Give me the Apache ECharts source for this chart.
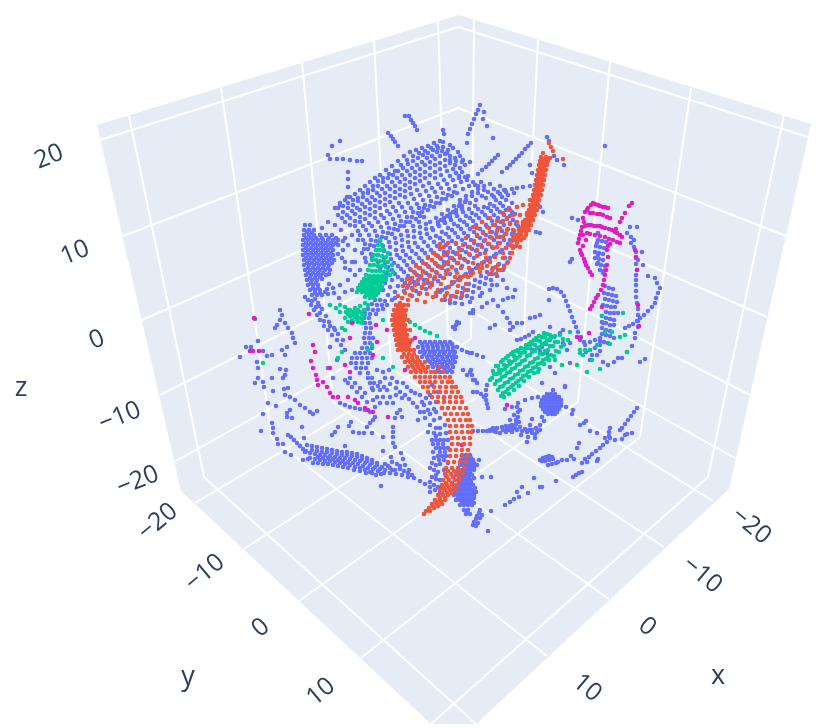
<!DOCTYPE html>
<html>
<head>
<meta charset="utf-8">
<style>
  html, body { margin: 0; padding: 0; background: #fff; }
  #chart { width: 831px; height: 728px; }
</style>
<script src="https://cdn.jsdelivr.net/npm/echarts@6/dist/echarts.min.js"></script>
</head>
<body>
<div id="chart"></div>
<script>
const paneOutline = [97,125, 459,15, 811,124, 729,489, 476,724, 431,724, 181,491];

// wall and floor grid, start and end of each line
const wallLines = [
  129,116, 204,477,  221,88, 272,438,  302,62, 333,402,  374,41, 391,368,  438,21, 448,337,
  474,20, 471,339,  538,40, 522,368,  610,62, 578,402,  691,88, 640,437,  784,115, 708,477,
  100,140, 458,27,  458,27, 808,137,  123,236, 458,108,  458,108, 786,236,
  142,320, 458,182,  458,182, 767,317,  160,395, 458,245,  458,245, 750,395,
  174,462, 458,304,  458,304, 735,458
];
const floorLines = [
  195,503, 471,339,  244,549, 522,368,  299,601, 578,402,  361,658, 640,437,  431,724, 708,477,
  713,501, 448,337,  664,547, 391,368,  609,599, 333,402,  547,656, 272,438,  476,724, 204,477
];

const zTicks = ['20', '10', '0', '\u221210', '\u221220'];
const yTicks = ['\u221220', '\u221210', '0', '10'];
const xTicks = ['\u221220', '\u221210', '0', '10'];
const zTickSpots = [49,157, 75,253, 97,340, 120,417, 138,481];
const yTickSpots = [158,522, 205,573, 261,628, 321,692];
const xTickSpots = [751,526, 702,575, 647,627, 587,688];
const axisNames = ['x', 'y', 'z'];
const axisNameSpots = [718,676, 188,677, 21,388];

const blueCloud = [
  335,208, 340,205, 345,200, 350,197, 355,194, 360,190, 365,186, 370,182, 375,178, 380,175, 386,170, 392,166, 398,161, 404,156, 410,152, 416,150, 422,148, 428,146, 434,143, 440,141, 444,134, 443,130, 443,142, 450,145,
  338,215, 343,212, 348,208, 353,205, 358,201, 363,197, 368,193, 373,190, 378,186, 383,182, 388,178, 393,175, 398,171, 403,168, 408,164, 413,161, 418,158, 423,155, 428,153, 433,150, 438,148, 443,147, 448,150, 453,148, 458,152,
  345,222, 350,218, 355,214, 360,210, 365,207, 370,203, 375,200, 380,196, 385,193, 390,189, 395,186, 400,182, 405,179, 410,175, 415,172, 420,169, 425,165, 430,162, 435,159, 440,156, 445,154, 450,156, 455,158, 460,156, 463,160,
  355,226, 360,222, 365,219, 370,215, 375,212, 380,208, 385,205, 390,202, 395,198, 400,195, 405,191, 410,188, 415,184, 420,181, 425,178, 430,175, 435,172, 440,169, 445,166, 450,163, 455,165, 460,168, 465,165,
  360,235, 366,230, 372,226, 378,222, 384,218, 390,214, 396,211, 402,207, 408,203, 414,199, 420,195, 426,191, 432,188, 438,184, 444,180, 450,176, 456,173, 462,172, 468,176,
  365,244, 371,240, 377,236, 383,232, 389,228, 395,224, 401,221, 407,217, 413,212, 419,208, 425,205, 431,201, 437,197, 443,193, 449,189, 455,186, 461,182, 467,180, 473,182, 478,186,
  362,253, 368,249, 374,246, 380,241, 386,238, 392,234, 398,230, 404,226, 410,222, 416,219, 460,200, 466,196, 472,192, 478,189, 484,186, 490,184,
  366,262, 372,258, 378,255, 384,251, 390,247, 396,243, 402,240, 408,236, 414,231, 420,227, 426,224, 438,222, 444,218, 450,214, 456,210, 462,206, 486,198, 492,195, 498,192, 504,190,
  385,263, 391,259, 397,255, 403,251, 409,247, 415,243, 421,238, 427,234, 433,230, 439,226, 445,223, 451,220, 457,216, 463,212, 469,209, 475,206, 490,204, 496,200, 502,197, 508,195, 514,193,
  392,270, 398,266, 404,261, 410,258, 416,254, 422,250, 428,246, 434,242, 440,238, 446,234, 452,230, 458,226, 464,222, 470,218, 476,215, 482,212, 488,208, 494,206, 500,203, 506,200, 512,203, 517,207,
  398,277, 404,272, 410,269, 416,265, 422,261, 428,257, 434,253, 440,249, 446,245, 452,241, 458,237, 464,233, 470,229, 476,225, 482,222, 488,218, 494,215, 500,212, 506,210, 512,212,
  405,283, 411,279, 417,275, 423,271, 429,267, 435,263, 441,259, 447,255, 453,252, 459,248, 465,244, 471,240, 477,236, 483,232, 489,228, 495,225, 501,222, 507,219, 513,220, 518,226,
  412,288, 418,284, 424,280, 430,276, 436,272, 442,268, 448,264, 454,260, 460,256, 466,252, 472,249, 478,245, 484,241, 490,237, 496,234, 502,231, 508,229, 514,231,
  420,293, 426,289, 432,285, 438,281, 444,278, 450,274, 456,270, 462,266, 468,262, 474,258, 480,254, 486,250, 492,247, 498,243, 504,240, 510,240, 516,240,
  440,292, 446,288, 452,284, 458,280, 464,276, 470,272, 476,268, 482,264, 488,260, 494,256, 500,252, 506,248, 512,246,
  445,300, 451,296, 457,292, 463,288, 469,284, 475,280, 481,276, 487,272, 493,268, 499,264, 505,258, 510,253,
  455,303, 461,298, 467,296, 473,292, 479,288, 485,284, 491,280, 497,276, 503,270, 508,262,
  470,302, 480,296, 490,290, 497,285, 503,280, 380,268, 386,274, 392,280, 398,286, 404,291, 412,296
];
const blueCloudFill = [
  338,208, 343,206, 348,203, 353,200, 358,198, 363,193, 368,190, 373,186, 378,181, 383,178, 389,174, 395,171, 401,165, 407,160, 413,156, 419,153, 425,151, 431,148, 437,146,
  342,218, 347,215, 352,211, 357,208, 362,204, 367,200, 372,197, 377,193, 382,189, 387,186, 392,182, 397,178, 402,175, 407,171, 412,168, 417,165, 422,162, 427,158, 432,156, 437,152, 442,151, 447,153,
  350,225, 355,221, 360,217, 365,213, 370,209, 375,206, 380,202, 385,199, 390,196, 395,192, 400,189, 405,185, 410,182, 415,178, 420,175, 425,172, 430,168, 435,165, 440,163, 445,160, 450,160, 456,161, 462,162,
  358,231, 363,226, 369,223, 375,218, 381,215, 387,211, 393,207, 399,203, 405,197, 411,194, 417,190, 423,186, 429,183, 435,178, 441,175, 447,171, 453,169, 459,176,
  363,240, 369,235, 375,231, 381,227, 387,223, 393,219, 399,216, 405,212, 411,208, 417,204, 423,200, 429,196, 435,192, 441,188, 447,184, 453,180, 459,178, 465,177,
  364,249, 370,245, 376,241, 382,237, 388,233, 394,229, 400,226, 406,222, 412,217, 418,213, 457,193, 463,189, 469,186, 475,185, 481,182,
  365,258, 371,254, 377,250, 383,246, 389,242, 395,238, 401,235, 407,231, 413,226, 419,222, 441,220, 447,216, 453,212, 459,206, 465,202, 488,192, 494,189, 500,186,
  378,262, 384,258, 390,254, 396,250, 402,246, 408,242, 414,237, 420,233, 426,229, 432,228, 438,224, 444,221, 450,217, 456,213, 462,209, 494,197, 500,194, 506,192,
  388,267, 394,263, 400,258, 406,255, 412,251, 418,247, 424,242, 430,238, 436,236, 442,232, 448,228, 454,224, 460,220, 466,216, 472,213, 478,209, 484,207,
  395,274, 401,269, 407,265, 413,262, 419,258, 425,253, 431,250, 437,246, 443,241, 449,237, 455,233, 461,229, 467,225, 473,221, 479,218, 485,215, 491,211, 497,209, 503,206, 509,208, 515,214,
  402,280, 408,276, 414,272, 420,268, 426,264, 432,260, 438,256, 444,252, 450,248, 456,244, 462,240, 468,236, 474,232, 480,229, 486,225, 492,221, 498,218, 504,215, 510,216,
  408,286, 414,282, 420,278, 426,273, 432,270, 438,266, 444,262, 450,258, 456,254, 462,250, 468,247, 474,243, 480,238, 486,235, 492,232, 498,228, 504,225, 510,224, 516,224,
  416,291, 422,287, 428,283, 434,279, 440,276, 446,271, 452,267, 458,263, 464,259, 470,255, 476,251, 482,247, 488,244, 494,240, 500,237, 506,234, 512,234,
  436,296, 442,290, 448,287, 454,282, 460,277, 466,274, 472,270, 478,265, 484,262, 490,258, 496,254, 502,250, 508,244,
  450,303, 456,297, 462,293, 468,290, 474,286, 480,282, 486,278, 492,274, 498,270, 504,266, 462,304, 472,298, 482,293, 492,285,
  424,208, 430,206, 436,203, 442,199, 448,195, 454,192, 422,212, 428,210, 434,207, 440,203, 446,199, 452,196, 430,222, 436,218, 442,214, 448,210, 454,206, 460,204, 466,200, 472,196, 478,193, 484,190,
  470,203, 476,200, 482,196, 424,217, 420,216, 395,292, 390,287, 385,283, 380,277, 392,300, 388,295, 395,298, 383,290, 345,262, 350,270, 355,275, 348,280, 352,290, 345,292, 340,285, 355,262, 360,270
];
const blueStrays = [
  340,203, 347,197, 348,172, 348,179, 348,187, 328,155, 330,159, 337,159, 343,159, 350,160, 357,161, 362,161, 332,146, 340,141,
  388,133, 391,136, 393,139, 395,142, 398,146, 405,116, 409,116, 411,120, 413,123, 415,126, 417,130,
  480,105, 478,110, 476,114, 474,119, 472,124, 470,129, 468,134, 484,112, 483,119, 487,126, 493,138, 467,143,
  531,143, 528,146, 525,149, 522,153, 519,156, 516,159, 513,162, 510,165, 507,168, 605,146,
  498,155, 495,158, 492,161, 489,164, 486,167, 482,170, 478,174, 502,172, 470,162, 530,165,
  505,190, 512,189, 517,188, 523,187, 530,186, 532,173, 540,207, 543,212, 536,232, 540,233, 547,137, 549,141, 554,156, 557,160, 564,165,
  335,225, 341,230, 328,222, 322,228, 345,238, 352,235, 348,245, 358,240, 343,250, 352,262, 345,268, 342,258, 355,250
];
const blueCrescent = [
  305,225, 310,225, 304,230, 309,230, 314,230, 304,235, 309,235, 314,235, 320,235, 326,235, 332,235,
  303,240, 308,240, 313,240, 318,240, 323,240, 328,240, 333,240, 338,240, 343,241, 303,245, 308,245, 313,245, 318,245, 323,245, 328,245, 333,245, 338,245,
  303,250, 308,250, 313,250, 318,250, 323,250, 328,250, 333,250, 303,255, 308,255, 313,255, 318,255, 323,255, 328,255, 333,255, 338,254,
  304,260, 309,260, 314,260, 319,260, 324,260, 329,260, 334,260, 304,265, 309,265, 314,265, 319,265, 324,265, 329,265,
  305,270, 310,270, 315,270, 320,270, 325,270, 330,270, 306,275, 311,275, 316,275, 321,275, 326,275, 307,280, 312,280, 317,280, 322,279,
  308,285, 313,285, 318,285, 329,284, 310,290, 315,290, 320,290, 327,289, 333,288, 312,295, 317,295, 322,295, 328,294, 334,293, 339,298,
  308,300, 311,305, 314,310, 317,315, 320,320, 324,326, 328,330, 332,335, 337,340, 341,345, 345,350, 312,301, 316,307, 320,313, 319,306, 305,297, 324,321, 330,326, 335,330,
  330,347, 337,360, 328,368, 333,378, 345,380, 348,383, 352,387, 357,392, 362,397, 367,402, 350,378, 355,383, 360,388, 365,393,
  307,232, 312,233, 306,238, 311,238, 316,238, 322,238, 329,238, 336,238, 306,243, 311,243, 316,243, 321,243, 326,243, 331,243, 336,243, 306,248, 311,248, 316,248, 321,248, 326,248, 331,248,
  306,253, 311,253, 316,253, 321,253, 326,253, 331,253, 306,258, 311,258, 316,258, 321,258, 326,258, 331,258, 307,263, 312,263, 317,263, 322,263, 327,263, 332,263, 308,268, 313,268, 318,268, 323,268, 328,268,
  308,273, 313,273, 318,273, 323,273, 329,274, 310,278, 315,278, 320,277, 311,283, 316,283, 313,288, 318,288, 315,293, 320,293, 325,292, 315,299, 318,303, 322,309, 326,316, 329,322, 334,328, 338,334, 343,340
];
const blueWest = [
  280,310, 282,315, 280,320, 277,325, 275,328, 285,323, 288,328, 292,333, 293,338, 295,343, 255,319, 287,347, 282,350, 246,347, 251,347, 258,341, 263,351, 272,355, 267,356, 240,357, 257,362, 258,368, 285,355,
  280,369, 286,370, 285,375, 283,378, 272,378, 258,378, 255,383, 263,382, 264,387, 273,391, 284,389, 288,388, 285,395, 290,397, 295,400, 300,405, 305,408, 310,412, 317,411, 313,414,
  268,403, 276,406, 263,414, 290,410, 287,413, 292,418, 287,417, 272,423, 261,431, 273,428, 273,433, 277,439, 278,444, 283,444, 285,452, 291,455, 302,427, 304,438, 303,460, 308,459,
  332,435, 335,432, 338,427, 349,426, 353,432, 359,433, 364,433, 372,433, 345,446, 351,422, 367,427, 370,423, 373,420, 375,417, 383,437, 393,427, 393,432, 393,437, 393,443, 395,447, 383,451, 391,457, 401,453, 403,459, 405,465, 409,470, 381,486
];
const blueFan = [
  288,435, 291,437, 294,440, 297,443, 300,446, 303,449, 306,451, 307,445, 312,446, 317,447, 322,448, 327,449, 332,450, 337,451, 342,452, 347,452, 352,453, 357,454, 362,456, 367,458, 372,460, 377,463,
  305,452, 310,453, 315,454, 320,455, 325,455, 330,456, 335,457, 340,458, 345,458, 350,459, 355,460, 360,461, 365,463, 370,465, 375,467, 380,469, 385,470,
  310,458, 315,459, 320,460, 325,461, 330,461, 335,462, 340,463, 345,464, 350,465, 355,467, 360,468, 365,470, 370,472,
  312,450, 317,451, 322,452, 327,452, 332,453, 337,454, 342,455, 347,455, 352,456, 357,457, 362,459, 367,461, 372,463, 377,465, 382,467,
  318,457, 323,458, 328,458, 333,459, 338,460, 343,461, 348,462, 353,463, 358,464, 363,466, 368,468, 373,469,
  378,471, 384,473, 390,473, 396,474, 402,475, 408,477, 414,478, 420,481, 425,484, 430,487, 372,473, 435,490, 440,493, 430,492, 385,464, 390,468, 395,470, 400,466, 397,464, 392,462,
  313,463, 318,463, 323,464, 328,464, 333,465, 338,466, 343,467, 348,468, 354,470, 360,471, 366,473, 376,475, 381,474, 404,471, 400,469, 408,473, 412,475, 392,470, 388,466
];
const blueMiddle = [
  375,300, 380,300, 385,301, 372,304, 377,305, 382,305, 387,305, 368,309, 373,310, 378,310, 383,309, 365,313, 370,314, 376,314,
  364,318, 369,318, 365,323, 370,323, 366,328, 371,328, 365,333, 370,333, 364,338, 369,338, 373,338, 365,343, 370,343, 362,348, 367,348, 372,348,
  355,353, 360,353, 365,353, 370,353, 352,358, 357,358, 362,358, 367,358, 372,358, 351,363, 356,363, 362,363, 368,363, 356,368, 361,368, 366,368, 360,373, 368,373, 368,378, 372,378, 370,383, 374,383, 372,388,
  340,403, 345,405, 350,407, 355,408, 360,409, 365,410, 370,412, 377,397, 373,400, 387,390, 380,390, 373,390, 383,397, 390,397, 387,403, 380,403, 393,403, 375,407, 397,413, 402,417, 400,410, 395,418,
  377,370, 383,372, 389,370, 385,378, 392,378, 397,382, 380,382, 378,386, 384,387, 390,384, 396,388, 400,392, 396,395, 402,398,
  403,383, 407,387, 411,391, 405,395, 409,399, 413,403, 417,407, 420,395, 415,393, 422,402, 428,410, 420,412, 425,418, 418,420,
  420,342, 425,342, 430,342, 435,342, 440,342, 445,342, 450,342, 418,347, 423,347, 428,347, 433,347, 438,347, 443,347, 448,347, 453,347, 457,347,
  420,352, 425,352, 430,352, 435,352, 440,352, 445,352, 450,352, 455,352, 422,357, 427,357, 432,357, 437,357, 442,357, 447,357, 452,357, 456,357,
  425,362, 430,362, 435,362, 440,362, 445,362, 450,362, 455,362, 428,367, 433,367, 438,367, 443,367, 448,367, 453,367, 435,372, 440,372, 447,372, 452,372,
  422,344, 427,345, 432,344, 437,345, 442,344, 447,345, 452,344, 423,350, 428,349, 433,350, 438,349, 443,350, 448,349, 453,350, 424,354, 429,355, 434,354, 439,355, 444,354, 449,355, 454,354,
  428,360, 433,359, 438,360, 443,359, 448,360, 453,359, 432,364, 437,365, 442,364, 447,365, 452,364, 438,370, 445,369, 450,370,
  462,350, 467,352, 470,353, 463,370, 467,375, 470,372, 473,380, 453,327, 456,325, 457,322, 459,323, 455,329, 470,313, 473,310,
  432,385, 438,392, 444,398, 430,395, 436,402, 442,408, 436,412, 440,418, 445,425, 440,428, 446,433, 436,436, 432,440, 436,440, 440,440, 444,440, 448,440,
  436,448, 440,448, 444,448, 448,448, 438,456, 442,456, 446,456, 432,463, 436,465, 440,464, 434,470, 438,472, 432,477, 436,479, 440,480, 434,485, 438,487, 442,488,
  424,405, 430,403, 426,398, 434,409, 430,414, 424,412, 434,420, 430,425, 436,428, 428,432, 434,433, 440,434, 433,444, 438,444, 443,444, 433,452, 440,452, 445,452, 434,458, 439,460, 444,460, 448,463, 430,468, 436,475, 430,482, 444,470, 446,476
];
const blueBase = [
  462,455, 466,455, 470,455, 461,460, 465,460, 469,460, 473,460, 460,465, 464,465, 468,465, 472,465, 476,465, 458,470, 462,470, 466,470, 470,470, 474,470,
  456,475, 460,475, 464,475, 468,475, 472,475, 455,480, 459,480, 463,480, 467,480, 471,480, 453,485, 457,485, 461,485, 465,485, 469,485, 473,485,
  452,490, 456,490, 460,490, 464,490, 468,490, 472,490, 454,495, 458,495, 462,495, 466,495, 470,495, 474,495, 456,500, 460,500, 464,500, 468,500, 472,500,
  460,505, 464,505, 468,505, 472,505, 464,510, 468,510, 466,514, 470,514, 467,512,
  463,458, 467,458, 471,458, 462,463, 466,463, 470,463, 474,463, 466,468, 470,468, 474,468, 462,473, 466,473, 470,473, 474,478, 461,478, 465,478, 469,478, 459,483, 463,483, 467,483, 471,483, 475,488, 458,488, 462,488, 466,488, 470,488,
  456,493, 460,493, 464,493, 468,493, 472,493, 476,492, 458,498, 462,498, 466,498, 470,498, 474,498, 462,503, 466,503, 470,503, 474,503,
  480,510, 479,513, 477,516, 476,519, 474,522, 473,525, 476,526, 478,523, 480,518, 482,515, 488,531, 491,511
];
const blueEast = [
  473,431, 478,431, 483,431, 487,431, 490,430, 494,431, 497,428, 500,433, 503,430, 507,429, 510,426, 512,431, 505,409, 512,407, 518,403, 525,400, 532,398, 538,397,
  517,407, 518,412, 518,417, 519,422, 516,424, 515,428, 510,420, 512,425, 514,415, 520,410, 512,432, 517,430, 522,431, 527,432, 532,433, 537,432, 540,430, 536,428, 532,430, 540,425,
  542,417, 544,421, 532,419, 530,425, 528,437, 527,442, 521,435, 535,438, 566,407, 573,410, 572,414, 565,386, 542,383, 553,390,
  580,425, 584,423, 586,421, 590,431, 597,433, 637,408, 634,412, 631,416, 628,420, 625,424, 622,428, 620,430, 610,428, 609,432, 609,436, 610,438, 605,438, 615,440, 622,439, 632,433, 627,434, 625,435,
  607,442, 603,445, 600,448, 596,451, 592,454, 589,457, 585,459, 582,463, 587,462, 598,459, 597,461, 579,443, 577,448,
  540,460, 543,458, 546,457, 549,456, 552,457, 553,459, 549,460, 545,461, 542,461, 548,465, 552,464, 556,463, 558,462, 562,460, 567,460, 571,456, 574,459,
  573,477, 576,475, 579,473, 582,472, 534,478, 556,481, 540,487, 542,487, 528,493, 522,487, 517,492, 519,497, 514,499, 510,502, 505,505, 479,460, 477,465, 491,477, 482,477,
  473,392, 477,392, 481,394, 484,397, 486,400, 487,404, 488,408, 487,385, 486,390, 486,395,
  490,431, 493,428, 496,432, 502,427, 506,432, 509,430, 513,428, 506,426, 516,420, 520,427, 525,429, 529,430, 535,434,
  547,394, 551,394, 555,394, 544,397, 548,397, 552,397, 556,397, 559,397, 542,400, 546,400, 550,400, 554,400, 558,400, 561,400, 541,403, 545,403, 549,403, 553,403, 557,403, 561,403,
  541,406, 545,406, 549,406, 553,406, 557,406, 561,406, 543,409, 547,409, 551,409, 555,409, 559,409, 545,412, 549,412, 553,412, 557,412, 548,414, 552,414, 555,414
];
const blueTower = [
  549,289, 553,288, 557,289, 561,292, 564,296, 566,301, 568,306, 570,311, 572,317, 574,322, 576,327, 578,332, 581,337, 584,342, 549,300,
  598,233, 597,243, 598,255, 598,263, 603,273, 598,240, 602,241, 606,242, 596,246, 600,247, 604,248, 595,252, 599,253, 603,254, 595,258, 599,259, 603,260, 597,264, 601,265, 605,266, 600,270, 604,271,
  605,286, 609,288, 613,289, 604,293, 608,294, 612,295, 616,296, 605,299, 609,300, 613,301, 617,302, 603,305, 607,306, 611,307, 615,307, 606,312, 610,313, 614,313, 618,313, 602,316, 606,318, 610,319, 614,320,
  602,322, 606,323, 610,325, 614,325, 602,328, 606,330, 610,331, 602,334, 606,335, 610,336, 614,338, 600,341, 604,342, 608,343, 600,338,
  631,243, 634,247, 636,252, 636,258, 636,264, 637,270, 636,275, 636,280, 636,285, 636,291, 636,297, 637,303, 638,309, 638,315, 638,321, 638,327, 627,233, 631,237, 634,240,
  655,303, 652,307, 648,311, 644,315, 640,318, 637,321, 633,324, 629,326, 625,328, 660,288, 658,293, 656,298,
  635,333, 635,338, 632,346, 627,352, 622,358, 618,358, 640,362, 645,359, 638,260, 643,265, 648,276, 655,278, 657,283, 642,252,
  570,262, 572,259, 572,218, 578,220, 630,227, 637,227, 603,323,
  585,345, 590,342, 595,340, 600,345, 595,348, 600,351, 590,350, 586,352, 592,355, 597,355, 590,360, 603,362, 608,365, 614,362,
  517,340, 521,339, 525,337, 529,335, 533,332, 542,347, 546,344, 550,340, 554,337, 550,327, 553,337, 560,333, 563,330, 533,350, 540,351, 547,353, 550,367, 555,373, 565,387, 570,363, 570,343, 563,343, 567,350, 580,340,
  473,313, 513,297, 508,298, 503,300, 493,300, 498,306, 503,312, 507,318, 510,323, 513,327, 517,323, 522,323, 510,330, 490,328, 495,325, 530,318, 535,317, 540,315, 482,307, 487,303, 507,288, 515,290, 472,353, 477,355, 483,357, 471,370, 472,375, 475,380, 477,383
];

const greenWest = [
  380,240, 378,245, 382,245, 376,250, 380,250, 384,250, 388,253, 374,255, 378,255, 382,256, 386,257, 372,260, 376,260, 380,261, 384,261, 388,262, 370,265, 374,265, 378,266, 382,266, 386,267, 392,265,
  368,270, 372,271, 376,271, 380,271, 384,272, 388,271, 393,272, 366,275, 370,276, 374,276, 378,276, 382,276, 386,277, 390,275, 362,282, 366,281, 370,282, 374,282, 378,281, 382,282, 386,280,
  358,288, 362,287, 366,287, 370,287, 374,288, 378,287, 382,287, 357,292, 362,292, 366,293, 370,293, 374,293, 378,293, 365,297, 370,298, 374,298,
  364,279, 368,279, 372,279, 376,279, 380,279, 384,279, 360,285, 364,284, 368,285, 372,285, 376,284, 380,285, 360,290, 364,290, 368,290, 372,290, 376,290, 380,290, 368,295, 372,295, 376,295,
  345,307, 348,310, 352,312, 356,313, 360,312, 364,310, 360,306, 355,308, 350,316, 355,317, 360,318, 365,315, 352,320, 358,322, 362,323, 348,322, 345,318, 340,312, 365,303, 368,305, 342,328, 345,330,
  350,310, 354,312, 358,310, 362,314, 357,315, 352,315, 348,314, 346,312, 362,319, 357,319, 353,322,
  405,318, 410,322, 415,325, 420,328, 425,331, 430,333, 437,336, 330,305, 336,308, 340,305, 263,363, 338,358, 342,352, 393,367, 383,358, 372,345, 368,350, 383,320
];
const greenEast = [
  492,378, 497,374, 502,370, 507,366, 512,362, 517,358, 522,353, 527,348, 532,344, 537,340, 542,337, 547,334,
  495,384, 500,380, 505,376, 510,372, 515,368, 520,364, 525,360, 530,355, 535,351, 540,347, 545,343, 550,339, 555,336, 560,335,
  498,390, 503,386, 508,382, 513,378, 518,374, 523,370, 528,366, 533,362, 538,358, 543,354, 548,350, 553,346, 558,342, 563,339,
  501,396, 506,392, 511,387, 516,383, 521,379, 526,375, 531,371, 536,367, 541,363, 546,359, 551,355, 556,351, 561,347,
  497,381, 502,377, 507,373, 512,369, 517,365, 522,361, 527,356, 532,352, 537,348, 542,344, 547,340, 552,337,
  500,387, 505,383, 510,379, 515,375, 520,371, 525,367, 530,363, 535,359, 540,354, 545,351, 550,346, 555,342,
  503,393, 508,389, 513,385, 518,381, 523,376, 528,372, 533,368, 538,364, 543,360, 548,356,
  490,380, 494,374, 499,370, 504,365, 509,361, 514,356, 519,352, 524,349, 529,344, 534,340, 539,336, 544,333, 496,366, 501,362, 506,358, 511,354, 516,351, 521,348, 526,345, 531,342, 536,338,
  493,371, 498,366, 503,360, 508,356, 513,352, 518,350, 500,373, 505,369, 510,364, 515,360, 520,356, 525,352, 530,348, 535,345, 540,341, 545,337, 550,335,
  504,397, 509,394, 514,390, 519,386, 524,381, 529,377, 534,373, 539,369, 544,364, 549,360, 554,356, 559,352, 564,345, 568,340,
  580,353, 585,350, 587,372, 577,365, 592,360, 600,369, 610,344, 602,316, 623,313, 612,332, 620,337, 625,335, 627,352, 570,332, 597,345, 605,332, 580,350, 590,350, 583,355, 555,360, 562,365, 538,372
];

const magentaTower = [
  593,203, 598,205, 603,207, 608,208, 585,212, 588,208, 591,205, 583,218, 590,213, 597,214, 603,215, 610,218, 582,227, 588,225, 597,226, 605,228, 612,230, 617,233, 622,237,
  580,235, 587,233, 595,235, 605,237, 613,240, 620,243, 578,243, 580,250, 582,255, 585,262, 588,268, 592,275, 584,222, 581,231, 586,240, 583,246,
  595,204, 600,206, 605,207, 587,210, 593,213, 600,214, 607,217, 585,226, 591,225, 594,226, 600,226, 602,227, 609,229, 615,232, 620,235, 583,235, 590,234, 600,236, 609,239, 617,242, 579,239, 581,253, 584,259, 586,265, 590,272,
  632,203, 629,206, 625,213, 622,218, 620,222, 616,229, 607,250, 608,257, 607,265, 605,275, 603,285, 598,295, 594,302, 590,309, 610,244, 608,246, 606,270, 604,280, 601,290, 596,298, 592,306,
  635,250, 636,257, 637,270, 638,305, 639,326, 577,337, 580,338, 589,333, 602,307
];
const magentaWest = [
  250,351, 253,351, 259,351, 254,318, 309,314, 313,345, 315,352, 311,361, 313,368, 316,375, 317,380, 318,385, 323,382, 327,387, 330,393, 333,397, 338,397, 348,397, 355,400, 358,403, 365,408, 368,410, 373,412, 388,417,
  352,323, 350,338, 376,325, 377,342, 387,330, 373,355, 410,342, 415,338, 405,370, 462,445, 330,368, 345,365, 350,372, 507,405
];

const redTop = [
  543,153, 541,157, 546,157, 540,161, 544,161, 548,161, 539,165, 543,165, 547,165, 538,170, 542,170, 546,170, 537,175, 541,175, 545,175, 536,180, 540,180, 544,180, 535,185, 539,185, 543,185,
  534,190, 538,190, 542,190, 533,195, 537,195, 541,195, 531,200, 535,200, 539,200, 530,205, 534,205, 538,205, 529,210, 533,210, 537,210, 527,215, 531,215, 535,215, 525,220, 529,220, 533,220,
  523,225, 527,225, 531,225, 519,230, 524,230, 529,230, 516,235, 521,235, 526,235, 550,158, 563,159, 549,143, 551,147, 553,151,
  542,159, 546,159, 541,163, 545,163, 540,167, 544,167, 539,172, 543,172, 538,177, 542,177, 537,182, 541,182, 536,187, 540,187, 535,192, 539,192, 534,197, 538,197, 533,202, 537,202, 531,207, 535,207, 530,212, 534,212, 528,217, 532,217, 526,222, 530,222, 524,227, 528,227, 521,232, 526,232, 514,238, 519,238, 524,238, 512,241, 517,243
];
const redBand = [
  503,213, 510,210, 517,207, 523,205, 530,200, 507,218, 513,215, 520,215, 527,213, 510,223, 517,222, 523,222, 532,220, 513,230, 520,228, 527,230,
  473,227, 482,222, 477,228, 487,227, 493,225, 500,228, 507,230, 477,235, 483,233, 490,232, 497,237, 503,237, 485,240, 492,238, 500,243, 510,245, 517,240, 520,247,
  433,253, 440,248, 448,252, 457,253, 463,245, 470,247, 477,250, 485,253, 493,248, 503,253, 512,253,
  423,263, 432,260, 440,258, 448,262, 457,263, 465,260, 473,263, 482,263, 490,262, 498,265, 507,263,
  415,273, 423,272, 432,270, 440,267, 448,270, 457,273, 465,275, 473,273, 482,268, 492,270, 500,270,
  410,283, 418,280, 427,280, 435,277, 443,278, 452,282, 460,280, 468,277,
  405,293, 413,290, 422,288, 430,287, 438,290, 447,293, 457,292, 465,290,
  400,303, 408,300, 417,300, 425,302, 433,297, 442,300, 450,300,
  428,258, 436,255, 444,255, 452,258, 460,258, 469,254, 477,256, 486,258, 495,257, 503,258, 510,258,
  419,268, 428,266, 436,264, 444,265, 452,267, 461,268, 469,268, 478,268, 487,266, 496,267, 504,268,
  412,278, 421,276, 429,275, 437,273, 446,274, 455,277, 462,277, 471,275, 480,272, 489,274, 496,274,
  407,288, 415,285, 424,284, 432,283, 441,284, 449,287, 458,286, 466,284,
  402,298, 410,295, 419,294, 427,294, 436,293, 445,296, 453,296, 462,296,
  466,238, 474,241, 481,245, 489,244, 497,247, 506,248, 513,248, 521,240, 516,246, 490,218, 497,221, 503,221, 497,231, 505,234, 513,236, 519,234,
  448,243, 456,243, 440,244, 444,247, 460,250, 398,296, 403,286, 407,279, 411,270, 416,266
];
const redTail = [
  396,305, 400,305, 404,305, 408,305, 394,310, 398,310, 402,310, 406,310, 393,315, 397,315, 401,315, 405,315, 392,320, 396,320, 400,320, 404,320, 408,320, 393,325, 397,325, 401,325, 405,325,
  394,330, 398,330, 402,330, 406,330, 410,330, 395,335, 399,335, 403,335, 407,335, 396,340, 400,340, 404,340, 408,340, 412,340, 397,345, 401,345, 405,345, 409,345, 398,350, 402,350, 406,350, 410,350, 414,350,
  398,308, 402,308, 396,313, 400,313, 404,313, 395,318, 399,318, 403,318, 395,323, 399,323, 403,323, 396,328, 400,328, 404,328, 397,333, 401,333, 405,333, 398,338, 402,338, 406,338, 399,343, 403,343, 407,343, 400,348, 404,348, 408,348,
  402,357, 407,357, 412,357, 417,357, 405,362, 410,362, 415,362, 420,362, 425,362, 408,367, 413,367, 418,367, 423,367, 428,367, 440,367, 411,372, 416,372, 421,372, 426,372, 431,372, 436,372, 443,372,
  404,354, 409,354, 414,354, 408,360, 413,360, 418,360, 412,365, 417,365, 422,365, 415,370, 420,370, 425,370,
  415,377, 420,377, 425,377, 430,377, 435,377, 440,377, 445,377, 450,377, 420,382, 425,382, 430,382, 435,382, 442,382, 448,382, 452,382, 423,387, 428,387, 434,387, 440,387, 446,387, 452,387, 456,387,
  428,392, 434,392, 440,392, 446,392, 452,392, 458,392, 432,397, 438,397, 444,397, 450,397, 456,397, 461,397, 438,402, 444,402, 450,402, 456,402, 462,402, 442,408, 448,408, 454,408, 460,408, 466,408,
  445,414, 451,414, 457,414, 463,414, 468,414, 448,420, 454,420, 460,420, 466,420, 470,420, 450,426, 456,426, 462,426, 468,426, 472,426, 450,432, 456,432, 462,432, 468,432, 472,432,
  452,438, 458,438, 464,438, 470,438, 452,444, 458,444, 464,444, 470,444, 450,450, 456,450, 462,450, 468,450, 450,456, 456,456, 462,456, 468,456, 448,462, 454,462, 460,462, 466,462,
  446,468, 452,468, 458,468, 464,468, 445,474, 451,474, 457,474, 463,474, 443,480, 449,480, 455,480, 460,480, 442,485, 447,485, 452,485, 457,485, 440,490, 445,490, 450,490, 455,490,
  448,471, 454,471, 460,471, 447,477, 453,477, 459,477, 446,483, 452,483, 444,488, 449,488, 454,487, 442,493, 447,493, 452,493, 440,498, 445,498, 436,502, 441,502, 433,506, 438,506,
  438,495, 443,495, 448,495, 435,500, 440,500, 445,500, 432,504, 437,504, 442,504, 429,508, 434,508, 426,511, 430,511, 424,514
];

// flat x,y list into [x, y] rows
function pairs(flat) {
  const rows = [];
  for (let i = 0; i < flat.length; i += 2) rows.push([flat[i], flat[i + 1]]);
  return rows;
}

function segments(flat) {
  const rows = [];
  for (let i = 0; i < flat.length; i += 4) {
    rows.push({ coords: [[flat[i], flat[i + 1]], [flat[i + 2], flat[i + 3]]] });
  }
  return rows;
}

function tickRows(texts, spots, rotate, fontSize) {
  const at = pairs(spots);
  return texts.map((text, i) => ({
    value: at[i],
    label: { formatter: text, rotate: rotate, fontSize: fontSize },
  }));
}

function dots(name, color, flat) {
  return {
    name: name,
    type: "scatter",
    symbolSize: 4.6,
    itemStyle: { color: color, opacity: 1 },
    silent: true,
    data: pairs(flat),
  };
}

const chart = echarts.init(document.getElementById("chart"), null, { renderer: "canvas" });
chart.setOption({
  animation: false,
  grid: { left: 0, right: 0, top: 0, bottom: 0 },
  xAxis: { type: "value", min: 0, max: 831, show: false },
  yAxis: { type: "value", min: 0, max: 728, inverse: true, show: false },
  series: [
    {
      type: "custom",
      silent: true,
      data: [0],
      renderItem: (params, api) => ({
        type: "polygon",
        shape: { points: pairs(paneOutline).map((p) => api.coord(p)) },
        style: { fill: "#e5ecf6" },
      }),
    },
    {
      type: "lines",
      coordinateSystem: "cartesian2d",
      silent: true,
      lineStyle: { color: "#ffffff", width: 2, opacity: 1 },
      data: segments(wallLines.concat(floorLines)),
    },
    dots("blueCloud", "#636efa", blueCloud),
    dots("blueCloudFill", "#636efa", blueCloudFill),
    dots("blueStrays", "#636efa", blueStrays),
    dots("blueCrescent", "#636efa", blueCrescent),
    dots("blueWest", "#636efa", blueWest),
    dots("blueFan", "#636efa", blueFan),
    dots("blueMiddle", "#636efa", blueMiddle),
    dots("blueBase", "#636efa", blueBase),
    dots("blueEast", "#636efa", blueEast),
    dots("blueTower", "#636efa", blueTower),
    dots("greenWest", "#00cc96", greenWest),
    dots("greenEast", "#00cc96", greenEast),
    dots("magentaTower", "#e31bc4", magentaTower),
    dots("magentaWest", "#e31bc4", magentaWest),
    dots("redTop", "#ef553b", redTop),
    dots("redBand", "#ef553b", redBand),
    dots("redTail", "#ef553b", redTail),
    {
      type: "scatter",
      silent: true,
      symbolSize: 0,
      itemStyle: { opacity: 1 },
      label: {
        show: true,
        position: "inside",
        color: "#2a3f5f",
        fontFamily: "Open Sans",
        align: "center",
        verticalAlign: "middle",
      },
      data: []
        .concat(tickRows(zTicks, zTickSpots, 22, 25))
        .concat(tickRows(yTicks, yTickSpots, 40, 25))
        .concat(tickRows(xTicks, xTickSpots, -40, 25))
        .concat(tickRows(axisNames, axisNameSpots, 0, 27)),
    },
  ],
});
</script>
</body>
</html>
